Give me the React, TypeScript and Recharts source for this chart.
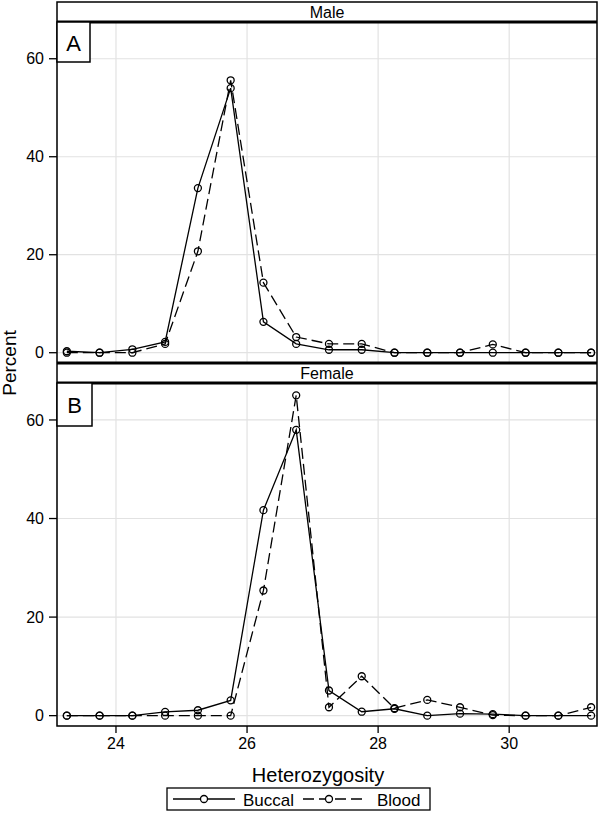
import { LineChart, Line, XAxis, YAxis, CartesianGrid } from 'recharts'

const heterozygosity = [
  23.25, 23.75, 24.25, 24.75, 25.25, 25.75, 26.25, 26.75, 27.25,
  27.75, 28.25, 28.75, 29.25, 29.75, 30.25, 30.75, 31.25,
]
const maleBuccal = [0.3, 0, 0.7, 2.2, 33.6, 54, 6.3, 1.8, 0.6, 0.6, 0, 0, 0, 0, 0, 0, 0]
const maleBlood = [0, 0, 0, 1.8, 20.7, 55.6, 14.3, 3.2, 1.8, 1.8, 0, 0, 0, 1.7, 0, 0, 0]
const femaleBuccal = [0, 0, 0, 0.75, 1.1, 3.1, 41.7, 58, 5.1, 0.8, 1.4, 0, 0.4, 0.3, 0, 0, 0]
const femaleBlood = [0, 0, 0, 0, 0, 0, 25.4, 65, 1.7, 8, 1.5, 3.2, 1.7, 0.1, 0, 0, 1.7]

const xTicks = [24, 26, 28, 30]
const yTicks = [0, 20, 40, 60]
const panelNames = ['Male', 'Female']
const panelLetters = ['A', 'B']
const seriesNames = ['Buccal', 'Blood']

const FONT = '"Liberation Sans", Arial, sans-serif'
const DASH = '11 5'

const toRows = (buccal: number[], blood: number[]) =>
  heterozygosity.map((h, i) => ({ h, buccal: buccal[i], blood: blood[i] }))

// hollow circles, never dashed
const dot = { r: 3.5, fill: 'none', stroke: '#000', strokeWidth: 1.3, strokeDasharray: 'none' }

function Panel({ data, showX, top, height }: { data: any[]; showX: boolean; top: number; height: number }) {
  return (
    <div style={{ position: 'absolute', left: 0, top }}>
      <LineChart width={600} height={height} data={data} margin={{ top: 0, right: 3, bottom: 0, left: 0 }}>
        <CartesianGrid stroke="#e2e2e2" strokeWidth={1.2} />
        <XAxis
          type="number"
          dataKey="h"
          domain={[23.1, 31.34]}
          ticks={xTicks}
          allowDataOverflow
          hide={!showX}
          height={40}
          tickSize={7}
          tickMargin={5}
          axisLine={false}
          tickLine={{ stroke: '#000', strokeWidth: 1.3 }}
          tick={{ fontSize: 16, fill: '#000', fontFamily: FONT }}
        />
        <YAxis
          type="number"
          domain={[-2.1, 67.5]}
          ticks={yTicks}
          allowDataOverflow
          width={57}
          tickSize={8}
          tickMargin={5}
          axisLine={false}
          tickLine={{ stroke: '#000', strokeWidth: 1.3 }}
          tick={{ fontSize: 16, fill: '#000', fontFamily: FONT }}
        />
        <Line dataKey="buccal" stroke="#000" strokeWidth={1.3} dot={dot} isAnimationActive={false} />
        <Line dataKey="blood" stroke="#000" strokeWidth={1.3} strokeDasharray={DASH} dot={dot} isAnimationActive={false} />
      </LineChart>
    </div>
  )
}

export default function App() {
  return (
    <div style={{ position: 'absolute', left: 0, top: 0, width: 600, height: 813, background: '#fff', fontFamily: FONT }}>
      <Panel data={toRows(maleBuccal, maleBlood)} showX={false} top={22} height={341} />
      <Panel data={toRows(femaleBuccal, femaleBlood)} showX top={383} height={383} />
      <svg width={600} height={813} style={{ position: 'absolute', left: 0, top: 0, pointerEvents: 'none' }} fontFamily={FONT}>
        <rect x={57} y={2} width={540} height={724} fill="none" stroke="#000" strokeWidth={1.5} />
        {[22, 363, 383].map((y) => (
          <line key={y} x1={57} x2={597} y1={y} y2={y} stroke="#000" strokeWidth={3} />
        ))}
        <text x={327} y={18} textAnchor="middle" fontSize={16}>{panelNames[0]}</text>
        <text x={327} y={379} textAnchor="middle" fontSize={16}>{panelNames[1]}</text>
        <rect x={57} y={22} width={33} height={40} fill="#fff" stroke="#000" strokeWidth={1.5} />
        <text x={73.5} y={51} textAnchor="middle" fontSize={22}>{panelLetters[0]}</text>
        <rect x={57} y={383} width={35} height={43} fill="#fff" stroke="#000" strokeWidth={1.5} />
        <text x={74.5} y={413} textAnchor="middle" fontSize={22}>{panelLetters[1]}</text>
        <text x={318} y={782} textAnchor="middle" fontSize={20}>Heterozygosity</text>
        <text transform="translate(16,363) rotate(-90)" textAnchor="middle" fontSize={19}>Percent</text>
        <rect x={167} y={788} width={263} height={22} fill="#fff" stroke="#000" strokeWidth={1.3} />
        <line x1={173} x2={235} y1={799} y2={799} stroke="#000" strokeWidth={1.3} />
        <circle cx={204} cy={799} r={3.5} fill="#fff" stroke="#000" strokeWidth={1.3} />
        <text x={243} y={805.5} fontSize={17}>{seriesNames[0]}</text>
        <line x1={303} x2={365} y1={799} y2={799} stroke="#000" strokeWidth={1.3} strokeDasharray={DASH} />
        <circle cx={329} cy={799} r={3.5} fill="#fff" stroke="#000" strokeWidth={1.3} />
        <text x={377} y={805.5} fontSize={17}>{seriesNames[1]}</text>
      </svg>
    </div>
  )
}
